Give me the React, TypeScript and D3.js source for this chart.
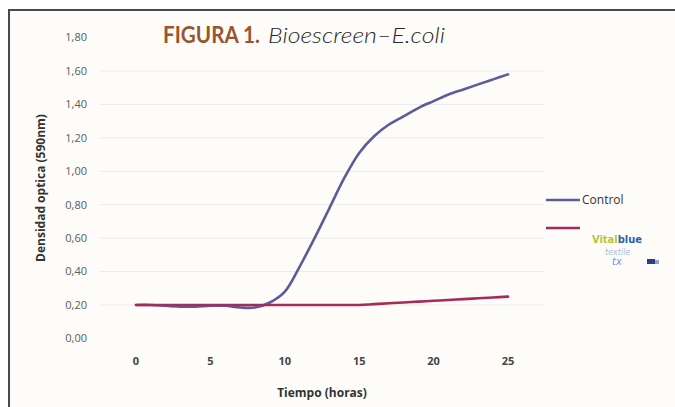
import React, { useEffect, useRef } from 'react';
import * as d3 from 'd3';

// Hours (x) and optical density readings for each series
const hours = d3.range(0, 26);
const controlValues = [
  0.20, 0.20, 0.195, 0.19, 0.19, 0.195, 0.195, 0.185, 0.185, 0.215,
  0.28, 0.43, 0.60, 0.78, 0.96, 1.11, 1.21, 1.28, 1.33, 1.38,
  1.42, 1.46, 1.49, 1.52, 1.55, 1.58,
];
const vitalblueValues = [
  0.20, 0.20, 0.20, 0.20, 0.20, 0.20, 0.20, 0.20, 0.20, 0.20,
  0.20, 0.20, 0.20, 0.20, 0.20, 0.20, 0.205, 0.21, 0.215, 0.22,
  0.225, 0.23, 0.235, 0.24, 0.245, 0.25,
];
const yTicks = [0, 0.2, 0.4, 0.6, 0.8, 1.0, 1.2, 1.4, 1.6, 1.8];
const xTicks = [0, 5, 10, 15, 20, 25];

const W = 675;
const H = 407;

const App: React.FC = () => {
  const svgRef = useRef<SVGSVGElement>(null);

  useEffect(() => {
    if (!svgRef.current) return;
    const svg = d3.select(svgRef.current);
    svg.selectAll('*').remove();

    // panel background + frame
    svg.append('rect').attr('width', W).attr('height', H).attr('fill', '#ffffff');
    svg.append('rect').attr('x', 9).attr('y', 10).attr('width', W - 9).attr('height', H - 10).attr('fill', '#fdfcf9');
    svg.append('path')
      .attr('d', `M9,${H} L9,10 L${W},10`)
      .attr('fill', 'none')
      .attr('stroke', '#4a4a4a')
      .attr('stroke-width', 2);

    const x = d3.scaleLinear().domain([0, 25]).range([136, 508]);
    const y = d3.scaleLinear().domain([0, 1.8]).range([338.4, 37.6]);

    // gridlines
    svg.append('g')
      .selectAll('line')
      .data(yTicks.filter(t => t > 0 && t < 1.8))
      .enter()
      .append('line')
      .attr('x1', 99)
      .attr('x2', 544)
      .attr('y1', d => y(d))
      .attr('y2', d => y(d))
      .attr('stroke', '#ebebeb')
      .attr('stroke-width', 1);

    const fmt = (v: number) => v.toFixed(2).replace('.', ',');

    // y tick labels
    svg.append('g')
      .selectAll('text')
      .data(yTicks)
      .enter()
      .append('text')
      .attr('x', 87)
      .attr('y', d => y(d))
      .attr('dy', '0.35em')
      .attr('text-anchor', 'end')
      .attr('font-family', 'Open Sans, sans-serif')
      .attr('font-size', 11)
      .attr('fill', '#5a5a5a')
      .text(d => fmt(d));

    // x tick labels
    svg.append('g')
      .selectAll('text')
      .data(xTicks)
      .enter()
      .append('text')
      .attr('x', d => x(d))
      .attr('y', 365)
      .attr('text-anchor', 'middle')
      .attr('font-family', 'Open Sans, sans-serif')
      .attr('font-weight', 700)
      .attr('font-size', 11)
      .attr('fill', '#444')
      .text(d => d);

    // axis titles
    svg.append('text')
      .attr('x', 322)
      .attr('y', 397)
      .attr('text-anchor', 'middle')
      .attr('font-family', 'Open Sans, sans-serif')
      .attr('font-weight', 700)
      .attr('font-size', 12)
      .attr('fill', '#333')
      .text('Tiempo (horas)');

    svg.append('text')
      .attr('transform', 'translate(45,188) rotate(-90)')
      .attr('text-anchor', 'middle')
      .attr('font-family', 'Open Sans, sans-serif')
      .attr('font-weight', 700)
      .attr('font-size', 12)
      .attr('fill', '#333')
      .text('Densidad optica (590nm)');

    // title (condensed look via textLength)
    svg.append('text')
      .attr('x', 163)
      .attr('y', 43)
      .attr('font-family', 'Lato, sans-serif')
      .attr('font-weight', 700)
      .attr('font-size', 22)
      .attr('fill', '#9a5530')
      .attr('textLength', 97)
      .attr('lengthAdjust', 'spacingAndGlyphs')
      .text('FIGURA 1.');
    svg.append('text')
      .attr('x', 268)
      .attr('y', 43)
      .attr('font-family', 'Lato, sans-serif')
      .attr('font-weight', 300)
      .attr('font-style', 'italic')
      .attr('font-size', 22)
      .attr('fill', '#2a2a2a')
      .attr('textLength', 177)
      .attr('lengthAdjust', 'spacingAndGlyphs')
      .text('Bioescreen–E.coli');

    // series lines (smoothed like the spreadsheet chart)
    const line = d3.line<number>()
      .x((_, i) => x(hours[i]))
      .y(d => y(d))
      .curve(d3.curveCatmullRom.alpha(0.5));

    svg.append('path')
      .attr('d', line(controlValues))
      .attr('fill', 'none')
      .attr('stroke', '#5c5c9c')
      .attr('stroke-width', 2.6)
      .attr('stroke-linecap', 'round');

    svg.append('path')
      .attr('d', line(vitalblueValues))
      .attr('fill', 'none')
      .attr('stroke', '#a62a5a')
      .attr('stroke-width', 2.6)
      .attr('stroke-linecap', 'round');

    // legend
    const lg = svg.append('g');
    lg.append('line').attr('x1', 546).attr('x2', 580).attr('y1', 200).attr('y2', 200)
      .attr('stroke', '#5c5c9c').attr('stroke-width', 2.6);
    lg.append('text').attr('x', 582).attr('y', 200).attr('dy', '0.35em')
      .attr('font-family', 'Open Sans, sans-serif').attr('font-size', 12).attr('fill', '#333')
      .text('Control');
    lg.append('line').attr('x1', 546).attr('x2', 580).attr('y1', 228).attr('y2', 228)
      .attr('stroke', '#a62a5a').attr('stroke-width', 2.6);

    // vitalblue logo (as text)
    const logo = lg.append('text').attr('x', 592).attr('y', 243)
      .attr('font-family', 'DejaVu Sans Condensed, sans-serif')
      .attr('font-weight', 700).attr('font-size', 11);
    logo.append('tspan').attr('fill', '#b3c934').text('Vital');
    logo.append('tspan').attr('fill', '#2d5fae').text('blue');
    lg.append('text').attr('x', 605).attr('y', 255)
      .attr('font-family', 'DejaVu Sans, sans-serif').attr('font-style', 'italic')
      .attr('font-size', 8).attr('fill', '#a9bcd8').text('textile');
    lg.append('text').attr('x', 612).attr('y', 265)
      .attr('font-family', 'DejaVu Sans, sans-serif').attr('font-style', 'italic')
      .attr('font-size', 10).attr('fill', '#7b93c4').text('tx');
    lg.append('rect').attr('x', 647).attr('y', 259).attr('width', 8).attr('height', 5).attr('fill', '#2c3f86');
    lg.append('rect').attr('x', 655).attr('y', 260).attr('width', 4).attr('height', 4).attr('fill', '#8fa2d0');
  }, []);

  return (
    <svg
      ref={svgRef}
      width={W}
      height={H}
      style={{ position: 'absolute', left: 0, top: 0, display: 'block' }}
    />
  );
};

export default App;
